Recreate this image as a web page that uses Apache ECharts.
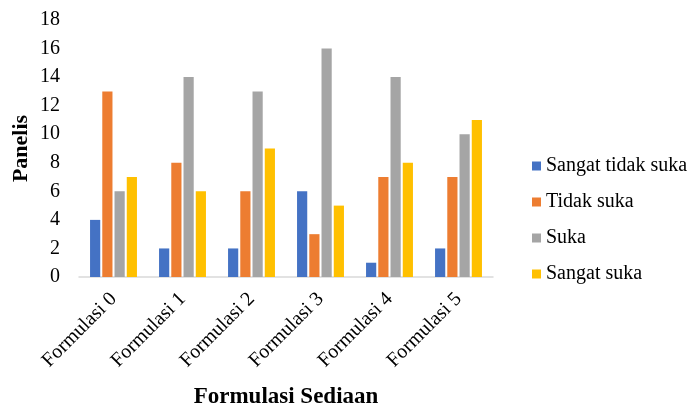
<!DOCTYPE html>
<html><head><meta charset="utf-8">
<script src="https://cdn.jsdelivr.net/npm/echarts@6/dist/echarts.min.js"></script>
<style>html,body{margin:0;padding:0;background:#fff}#c{width:690px;height:407px}</style>
</head><body><div id="c"></div>
<script>
const categories = ['Formulasi 0','Formulasi 1','Formulasi 2','Formulasi 3','Formulasi 4','Formulasi 5'];
const seriesNames = ['Sangat tidak suka','Tidak suka','Suka','Sangat suka'];
const sangatTidakSuka = [4,2,2,6,1,2];
const tidakSuka = [13,8,6,3,7,7];
const suka = [6,14,13,16,14,10];
const sangatSuka = [7,6,9,5,8,11];
const colors = ['#4472C4','#ED7D31','#A5A5A5','#FFC000'];
const values = [sangatTidakSuka, tidakSuka, suka, sangatSuka];
const font = '"Liberation Serif", "Times New Roman", serif';
const chart = echarts.init(document.getElementById('c'));
chart.setOption({
  animation:false,
  textStyle:{fontFamily:font},
  grid:{left:79,right:197,top:20,bottom:130,outerBoundsMode:'none',containLabel:false},
  legend:{orient:'vertical',left:527,top:151,itemWidth:9,itemHeight:9,itemGap:16,icon:'rect',
    textStyle:{fontFamily:font,fontSize:20,color:'#000'},data:seriesNames},
  xAxis:{type:'category',data:categories,
    axisLine:{lineStyle:{color:'#d9d9d9',width:1.5}},axisTick:{show:false},
    axisLabel:{rotate:45,fontFamily:font,fontSize:20,color:'#000',margin:19,interval:0},
    name:'Formulasi Sediaan',nameLocation:'middle',nameGap:109,nameMoveOverlap:false,
    nameTextStyle:{fontFamily:font,fontSize:23,fontWeight:'bold',color:'#000'}},
  yAxis:{type:'value',min:0,max:18,interval:2,
    splitLine:{show:false},axisLine:{show:false},axisTick:{show:false},
    axisLabel:{fontFamily:font,fontSize:20,color:'#000',margin:19},
    name:'Panelis',nameLocation:'middle',nameGap:47,nameMoveOverlap:false,
    nameTextStyle:{fontFamily:font,fontSize:22,fontWeight:'bold',color:'#000'}},
  series: seriesNames.map((n,i)=>({name:n,type:'bar',data:values[i],
    itemStyle:{color:colors[i]},barGap:'20%',barCategoryGap:'32%'}))
});
</script></body></html>
